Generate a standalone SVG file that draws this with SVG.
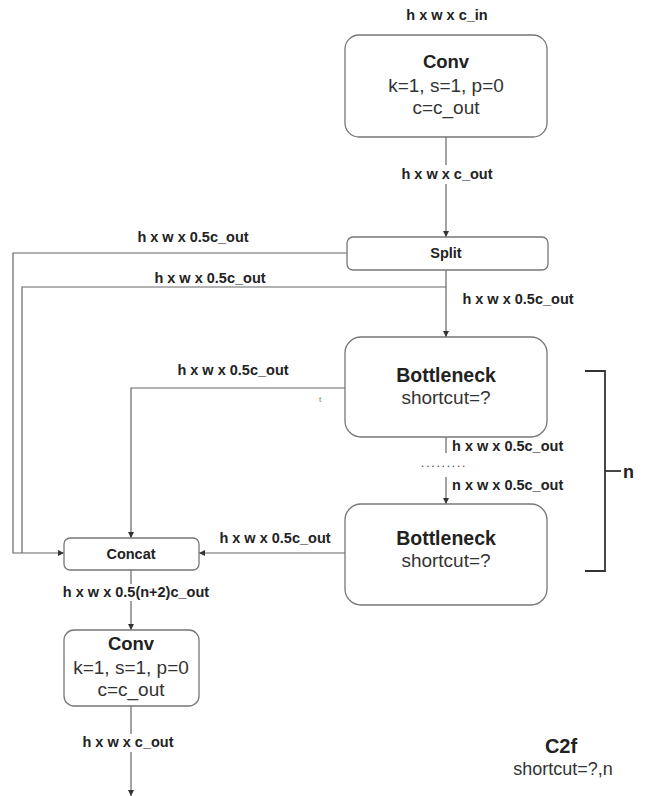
<svg xmlns="http://www.w3.org/2000/svg" width="648" height="796" viewBox="0 0 648 796">
<defs>
<marker id="ah" viewBox="0 0 10 10" refX="10" refY="5" markerWidth="6" markerHeight="6" markerUnits="userSpaceOnUse" orient="auto">
<path d="M0,0 L10,5 L0,10 z" fill="#333"/>
</marker>
<style>
.box{fill:#fff;stroke:#777;stroke-width:1.3}
.ln{fill:none;stroke:#666;stroke-width:1.2}
.lab{font-family:"Liberation Sans",Arial,sans-serif;font-weight:bold;font-size:14.5px;fill:#222}
.t{font-family:"Liberation Sans",Arial,sans-serif;font-size:19px;fill:#333;text-anchor:middle}
.tb{font-family:"Liberation Sans",Arial,sans-serif;font-size:18.5px;font-weight:bold;fill:#222;text-anchor:middle}
.sb{font-family:"Liberation Sans",Arial,sans-serif;font-size:14.5px;font-weight:bold;fill:#222;text-anchor:middle}
.m{text-anchor:middle}
</style>
</defs>
<rect width="648" height="796" fill="#fff"/>

<g id="connectors">
<line class="ln" x1="446" y1="137" x2="446" y2="165"/>
<line class="ln" x1="446" y1="184" x2="446" y2="237" marker-end="url(#ah)"/>
<polyline class="ln" points="347,253 13,253 13,553 64,553" marker-end="url(#ah)"/>
<polyline class="ln" points="446,287 22,287 22,553"/>
<line class="ln" x1="446" y1="270" x2="446" y2="337" marker-end="url(#ah)"/>
<polyline class="ln" points="345,388 131,388 131,538" marker-end="url(#ah)"/>
<line class="ln" x1="446" y1="437" x2="446" y2="453"/>
<line class="ln" x1="446" y1="477" x2="446" y2="504" marker-end="url(#ah)"/>
<line class="ln" x1="345" y1="553" x2="199" y2="553" marker-end="url(#ah)"/>
<line class="ln" x1="131" y1="570" x2="131" y2="584"/>
<line class="ln" x1="131" y1="601" x2="131" y2="630" marker-end="url(#ah)"/>
<line class="ln" x1="131" y1="706" x2="131" y2="734"/>
<line class="ln" x1="131" y1="752" x2="131" y2="796" marker-end="url(#ah)"/>
<polyline fill="none" stroke="#333" stroke-width="1.8" points="585,371 605,371 605,571 585,571"/>
<line stroke="#333" stroke-width="1.8" x1="605" y1="471" x2="621" y2="471"/>
</g>

<g id="labels">
<text class="lab m" x="447" y="20">h x w x c_in</text>
<text class="lab m" x="447" y="179">h x w x c_out</text>
<text class="lab m" x="193" y="242">h x w x 0.5c_out</text>
<text class="lab m" x="210" y="283">h x w x 0.5c_out</text>
<text class="lab m" x="518" y="304">h x w x 0.5c_out</text>
<text class="lab m" x="233" y="375">h x w x 0.5c_out</text>
<text x="319" y="402" font-family="Liberation Sans,Arial,sans-serif" font-size="8" fill="#777">t</text>
<text class="lab" x="452" y="451">h x w x 0.5c_out</text>
<text x="421" y="467" font-family="Liberation Sans,Arial,sans-serif" font-size="12" fill="#444" letter-spacing="1.8">.........</text>
<text class="lab" x="452" y="490">n x w x 0.5c_out</text>
<text class="lab m" x="275" y="543">h x w x 0.5c_out</text>
<text class="lab m" x="136" y="597">h x w x 0.5(n+2)c_out</text>
<text class="lab m" x="128" y="747">h x w x c_out</text>
<text class="lab" x="623" y="478" style="font-size:18px">n</text>
</g>

<g id="conv1">
<rect class="box" x="345" y="35" width="202" height="102" rx="14"/>
<text class="tb" x="446" y="68">Conv</text>
<text class="t" x="446" y="92">k=1, s=1, p=0</text>
<text class="t" x="446" y="114">c=c_out</text>
</g>

<g id="split">
<rect class="box" x="347" y="237" width="201" height="33" rx="6"/>
<text class="sb" x="446" y="258">Split</text>
</g>

<g id="bottleneck1">
<rect class="box" x="345" y="337" width="202" height="100" rx="16"/>
<text class="tb" x="446" y="382" style="font-size:19.5px">Bottleneck</text>
<text class="t" x="446" y="404">shortcut=?</text>
</g>

<g id="bottleneck2">
<rect class="box" x="345" y="504" width="202" height="101" rx="16"/>
<text class="tb" x="446" y="545" style="font-size:19.5px">Bottleneck</text>
<text class="t" x="446" y="567">shortcut=?</text>
</g>

<g id="concat">
<rect class="box" x="64" y="538" width="135" height="32" rx="6"/>
<text class="sb" x="131" y="559">Concat</text>
</g>

<g id="conv2">
<rect class="box" x="64" y="630" width="135" height="76" rx="10"/>
<text class="tb" x="131" y="650">Conv</text>
<text class="t" x="131" y="674">k=1, s=1, p=0</text>
<text class="t" x="131" y="696">c=c_out</text>
</g>

<g id="title">
<text class="tb" x="561" y="753" style="font-size:20px">C2f</text>
<text class="t" x="563" y="775" style="font-size:18px">shortcut=?,n</text>
</g>
</svg>
